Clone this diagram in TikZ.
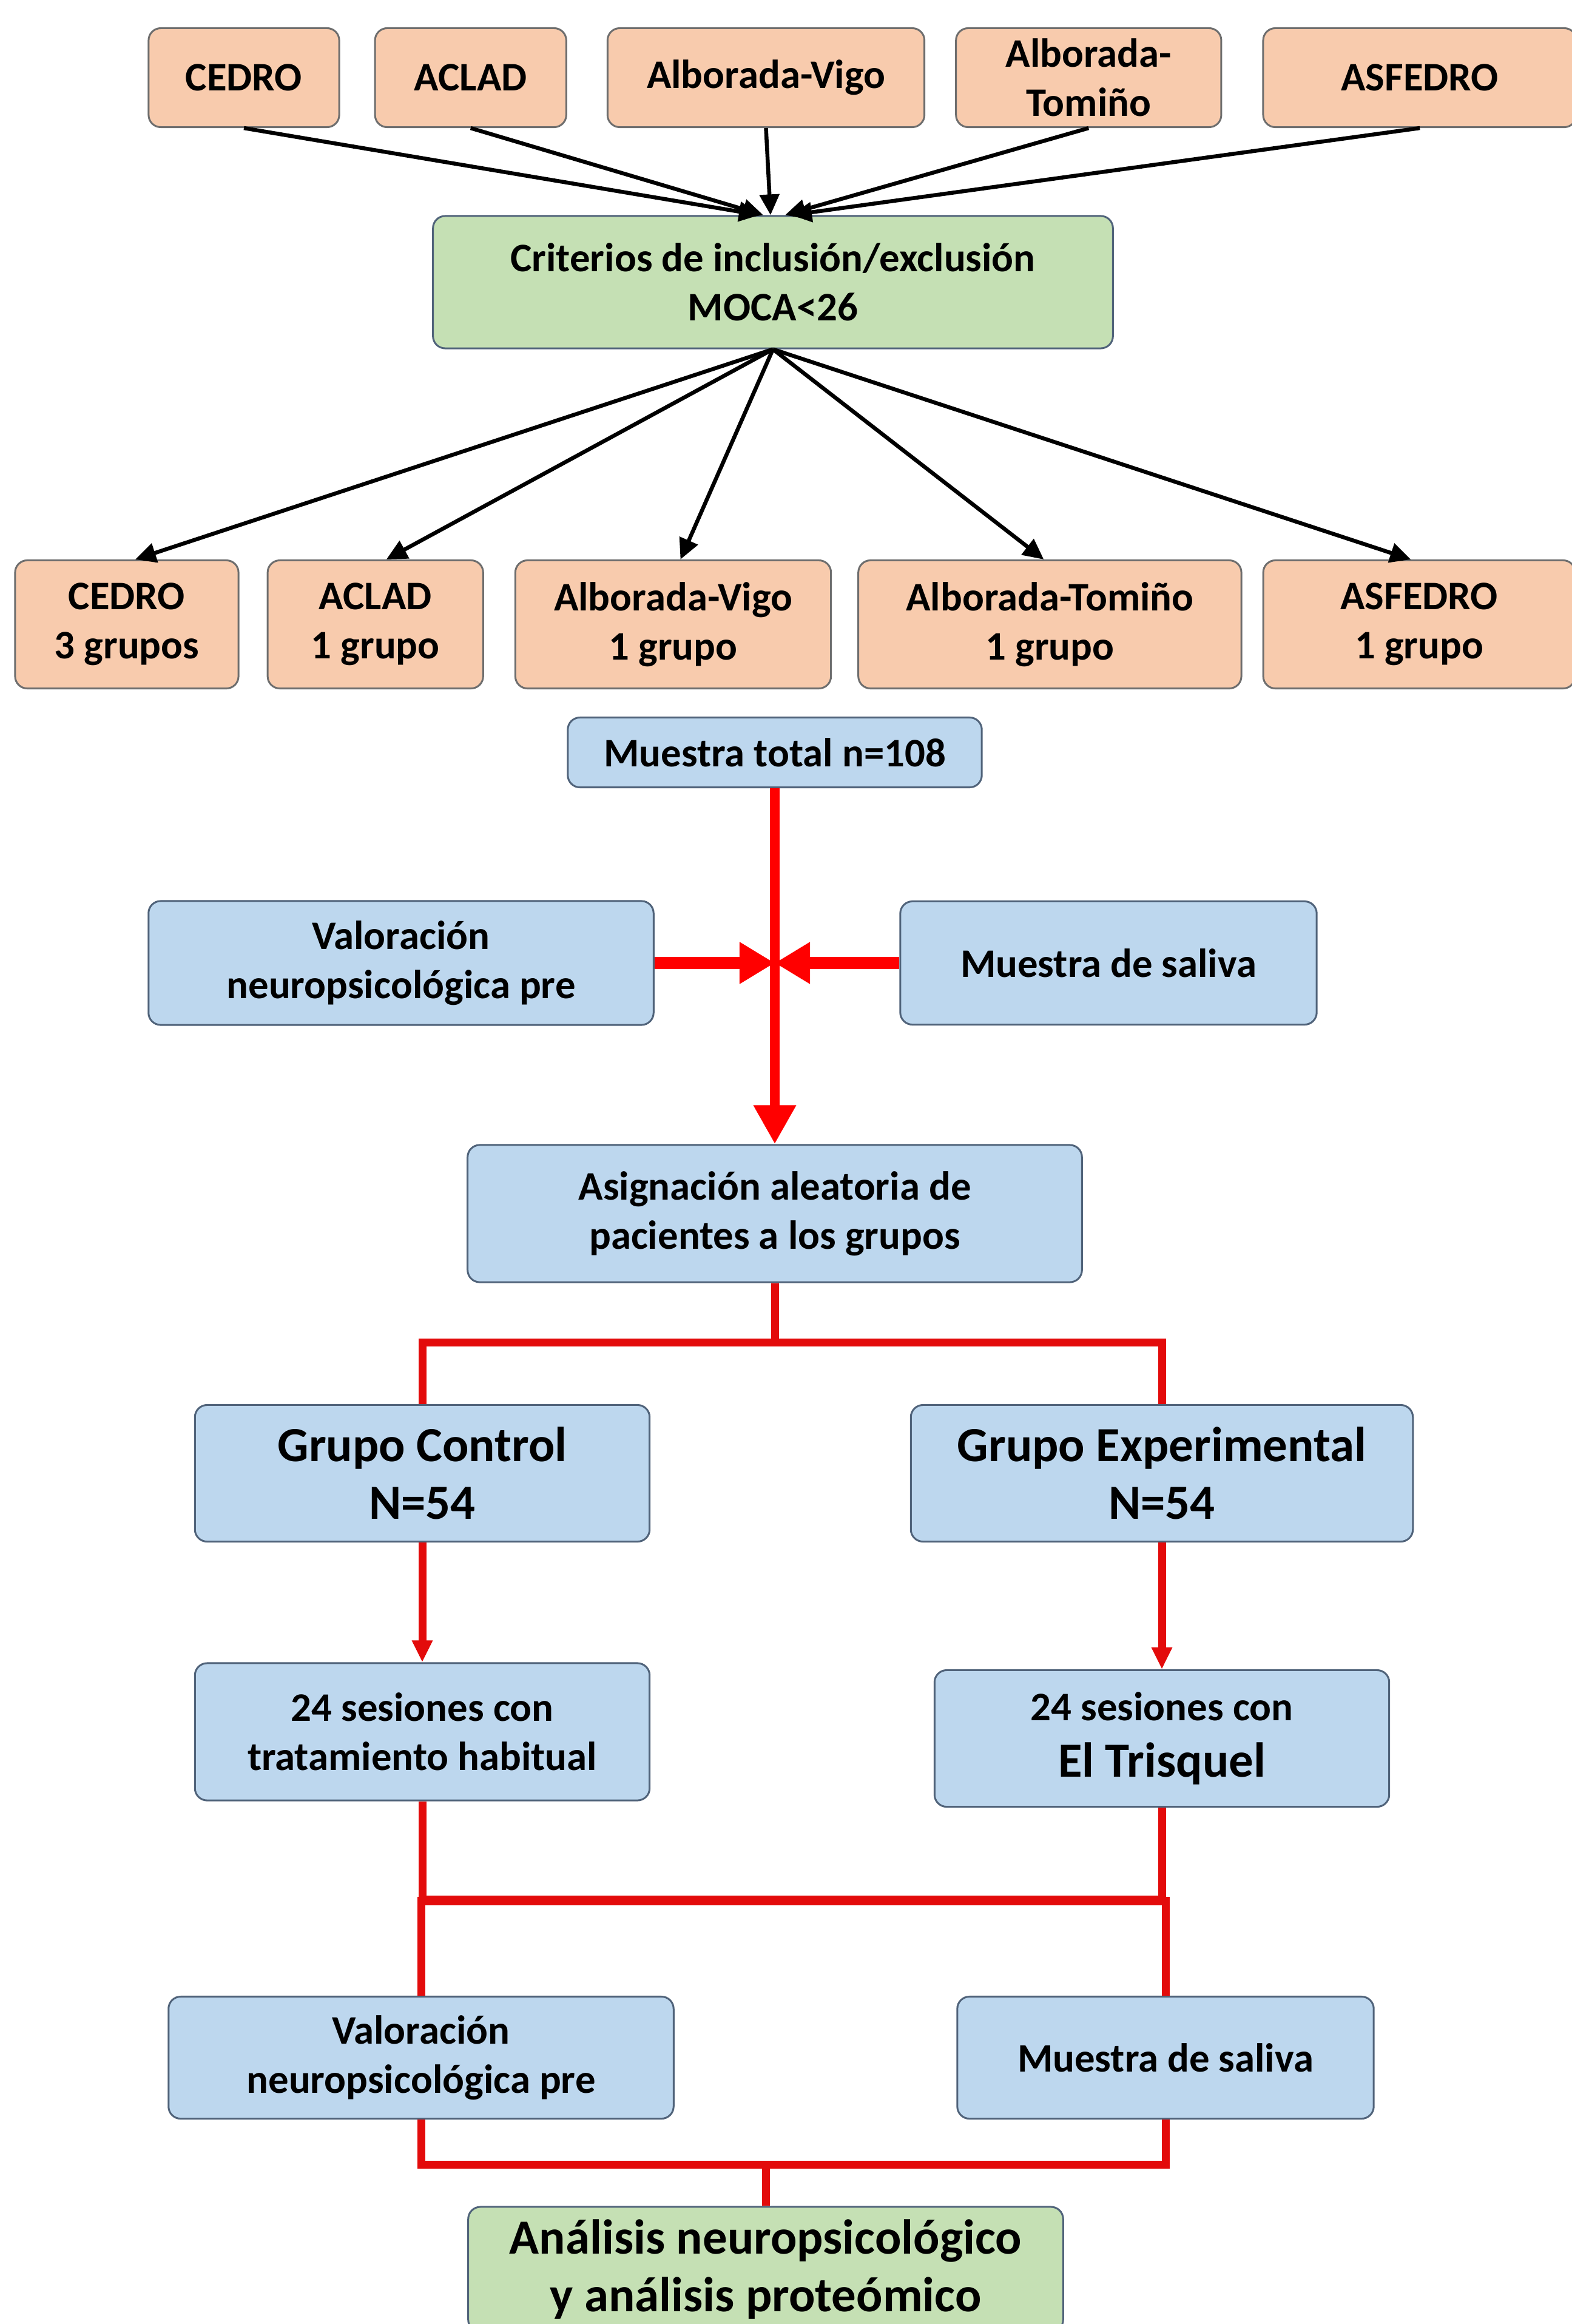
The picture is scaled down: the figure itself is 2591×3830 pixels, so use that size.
\documentclass[tikz,border=0pt]{standalone}
\usepackage{fontspec}
\setmainfont{Carlito}
\usetikzlibrary{arrows.meta,positioning}
\definecolor{orangefill}{HTML}{F8CBAD}
\definecolor{bluefill}{HTML}{BDD7EE}
\definecolor{greenfill}{HTML}{C5E0B4}
\definecolor{boxline}{HTML}{50637A}
\definecolor{greyline}{HTML}{6E6E6E}
\definecolor{redline}{HTML}{E30B0B}

\begin{document}
\begin{tikzpicture}[x=0.01cm,y=-0.01cm]
    \tikzset{
        n/.style        =   { rectangle
                            , rounded corners=0.2cm
                            , draw=boxline
                            , line width=0.03cm
                            , fill=bluefill
                            , align=center
                            , inner sep=0pt
                            , font=\bfseries\fontsize{19}{23}\selectfont
                            }
        , org/.style    =   { n
                            , fill=orangefill
                            , draw=greyline
                            }
        , grn/.style    =   { n
                            , fill=greenfill
                            }
        , big/.style    =   { font=\bfseries\fontsize{23}{27}\selectfont
                            }
        , arrow/.style  =   { line width=0.065cm
                            , -{Triangle[length=0.34cm,width=0.32cm]}
                            }
        , rline/.style  =   { line width=0.13cm
                            , draw=redline
                            }
        , rthick/.style =   { line width=0.16cm
                            , draw=redline
                            }
        , rarrow/.style =   { rline
                            , -{Triangle[length=0.36cm,width=0.32cm]}
                            }
        , bigarrow/.style = { line width=0.16cm
                            , draw=red
                            , -{Triangle[length=0.64cm,width=0.66cm]}
                            }
        , sidearrow/.style ={ line width=0.2cm
                            , draw=red
                            , -{Triangle[length=0.58cm,width=0.65cm]}
                            }
    }
    \fill[white] (0,0) rectangle (2591,3830);
    \useasboundingbox (0,0) rectangle (2591,3830);

    \node(1)[org,minimum width=3.14cm,minimum height=1.63cm] at (402,128) {CEDRO};
    \node(2)[org,minimum width=3.15cm,minimum height=1.63cm,right=0.56cm of 1] {ACLAD};
    \node(3)[org,minimum width=5.22cm,minimum height=1.63cm,right=0.65cm of 2] {Alborada-Vigo};
    \node(4)[org,minimum width=4.37cm,minimum height=1.63cm,right=0.49cm of 3] {Alborada-\\Tomiño};
    \node(5)[org,minimum width=5.16cm,minimum height=1.63cm,right=0.66cm of 4] {ASFEDRO};
    \node(6)[grn,minimum width=11.2cm,minimum height=2.18cm] at (1274,465) {Criterios de inclusión/exclusión\\MOCA<26};
    \node(7)[org,minimum width=3.68cm,minimum height=2.11cm] at (209,1029) {CEDRO\\3 grupos};
    \node(8)[org,minimum width=3.55cm,minimum height=2.11cm,right=0.45cm of 7] {ACLAD\\1 grupo};
    \node(9)[org,minimum width=5.2cm,minimum height=2.11cm,right=0.5cm of 8] {Alborada-Vigo\\1 grupo};
    \node(10)[org,minimum width=6.31cm,minimum height=2.11cm,right=0.42cm of 9] {Alborada-Tomiño\\1 grupo};
    \node(11)[org,minimum width=5.14cm,minimum height=2.11cm,right=0.33cm of 10] {ASFEDRO\\1 grupo};
    \node(12)[n,minimum width=6.82cm,minimum height=1.15cm] at (1277,1240) {Muestra total n=108};
    \node(13)[n,minimum width=8.32cm,minimum height=2.04cm] at (661,1587) {Valoración\\neuropsicológica pre};
    \node(14)[n,minimum width=6.86cm,minimum height=2.03cm] at (1827,1587) {Muestra de saliva};
    \node(15)[n,minimum width=10.12cm,minimum height=2.26cm] at (1277,2000) {Asignación aleatoria de\\pacientes a los grupos};
    \node(16)[n,big,minimum width=7.49cm,minimum height=2.25cm] at (696,2428) {Grupo Control\\N=54};
    \node(17)[n,big,minimum width=8.27cm,minimum height=2.25cm] at (1915,2428) {Grupo Experimental\\N=54};
    \node(18)[n,minimum width=7.49cm,minimum height=2.26cm] at (696,2854) {24 sesiones con\\tratamiento habitual};
    \node(19)[n,minimum width=7.49cm,minimum height=2.25cm] at (1915,2865) {24 sesiones con\\[0.12cm]{\fontsize{23}{27}\selectfont El Trisquel}};
    \node(20)[n,minimum width=8.32cm,minimum height=2.01cm] at (694,3391) {Valoración\\neuropsicológica pre};
    \node(21)[n,minimum width=6.86cm,minimum height=2.01cm] at (1921,3391) {Muestra de saliva};
    \node(22)[grn,big,minimum width=9.8cm,minimum height=2.06cm] at (1262,3740) {Análisis neuropsicológico\\y análisis proteómico};

    \coordinate(c1) at (1277,1587);
    \coordinate(c2) at (1277,2212);
    \coordinate(c3) at (694,3132);
    \coordinate(c4) at (1921,3132);
    \coordinate(c5) at (694,3567);
    \coordinate(c6) at (1921,3567);

    \draw[arrow] (1.south) -- ([xshift=-0.22cm]6.north);
    \draw[arrow] (2.south) -- ([xshift=-0.16cm]6.north);
    \draw[arrow] (3.south) -- ([xshift=-0.04cm]6.north);
    \draw[arrow] (4.south) -- ([xshift=0.2cm]6.north);
    \draw[arrow] (5.south) -- ([xshift=0.3cm]6.north);
    \draw[arrow] (6.south) -- ([xshift=0.14cm]7.north);
    \draw[arrow] (6.south) -- ([xshift=0.18cm]8.north);
    \draw[arrow] (6.south) -- ([xshift=0.12cm]9.north);
    \draw[arrow] (6.south) -- ([xshift=-0.1cm]10.north);
    \draw[arrow] (6.south) -- ([xshift=-0.14cm]11.north);

    \draw[bigarrow] (12.south) -- (15.north);
    \draw[sidearrow] (13.east) -- (c1);
    \draw[sidearrow] (14.west) -- (c1);

    \draw[rline] (15.south) -- (c2);
    \draw[rline] (16.north) |- (c2) -| (17.north);
    \draw[rarrow] (16.south) -- (18.north);
    \draw[rarrow] (17.south) -- (19.north);
    \draw[rline] (18.south) |- (c3) -- (20.north);
    \draw[rline] (19.south) |- (c4) -- (21.north);
    \draw[rthick] (c3) -- (c4);
    \draw[rline] (20.south) -- (c5) -- (c6) -- (21.south);
    \draw[rline] (22.north) -- (22.north |- c5);
\end{tikzpicture}
\end{document}
